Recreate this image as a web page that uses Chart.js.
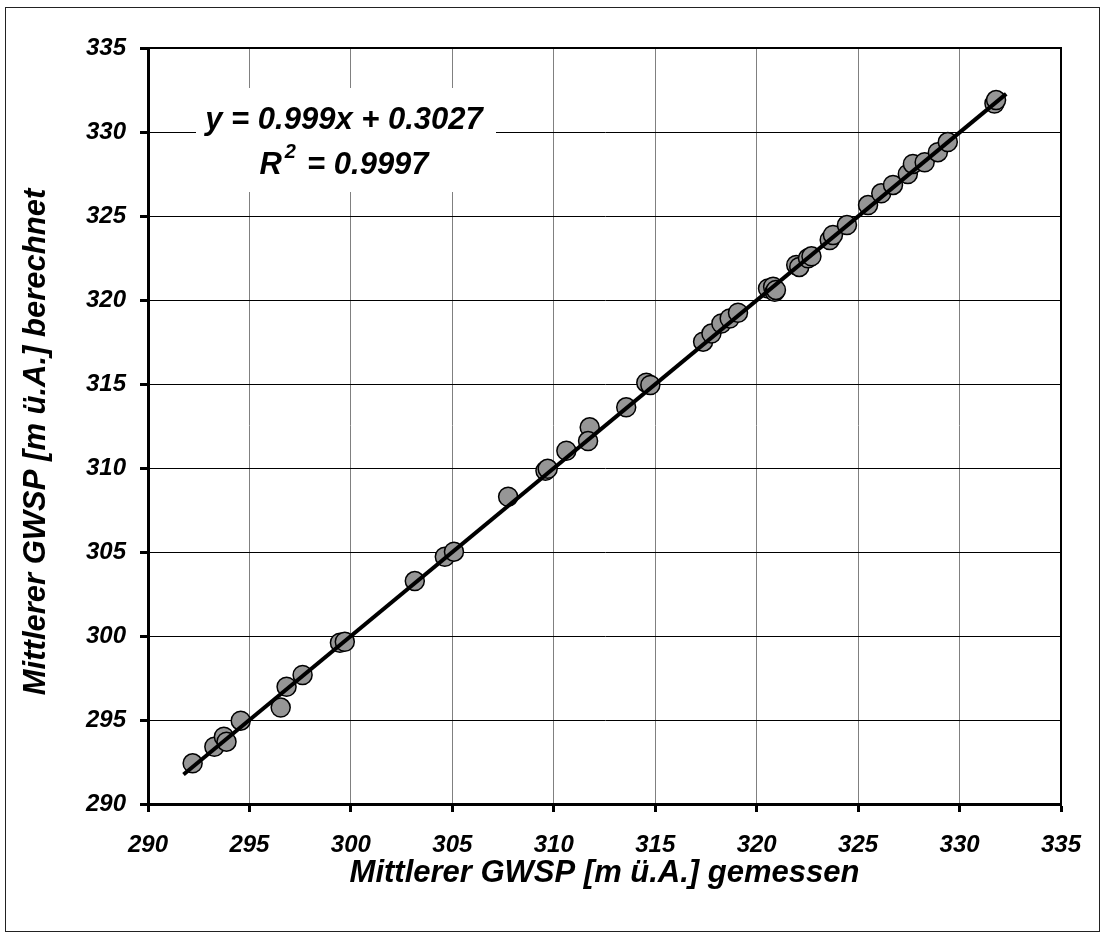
<!DOCTYPE html>
<html>
<head>
<meta charset="utf-8">
<script src="https://cdn.jsdelivr.net/npm/chart.js@4/dist/chart.umd.min.js"></script>
<style>
    html, body { margin: 0; padding: 0; background: #fff; }
    #wrap { width: 1104px; height: 936px; position: relative; }
</style>
</head>
<body>
<div id="wrap"><canvas id="chart"></canvas></div>
<script>
// measured vs. computed mean groundwater level (m ü.A.)
const measured = [292.2, 293.27, 293.74, 293.87, 294.57, 296.54, 296.83, 297.62, 299.46, 299.7,
    303.15, 304.63, 305.08, 307.75, 309.59, 309.7, 310.62, 311.77, 311.69, 313.57,
    314.56, 314.76, 317.36, 317.77, 318.26, 318.67, 319.08, 320.56, 320.81, 320.89,
    320.95, 321.95, 322.1, 322.53, 322.7, 323.6, 323.76, 324.45, 325.49, 326.14,
    326.72, 327.45, 327.7, 328.28, 328.93, 329.42, 331.72, 331.8];
const computed = [292.42, 293.41, 294.0, 293.71, 294.96, 295.74, 296.98, 297.68, 299.6, 299.66,
    303.27, 304.72, 305.02, 308.29, 309.83, 309.95, 311.03, 312.42, 311.6, 313.61,
    315.08, 314.94, 317.52, 318.0, 318.6, 318.9, 319.24, 320.69, 320.79, 320.49,
    320.6, 322.08, 321.97, 322.48, 322.6, 323.57, 323.87, 324.46, 325.65, 326.35,
    326.85, 327.5, 328.1, 328.2, 328.8, 329.4, 331.7, 331.9];

const trendX = [291.75, 332.3];
const trendY = [291.76, 332.27];

const axisMin = 290;
const axisMax = 335;
const axisStep = 5;

const equationText = 'y = 0.999x + 0.3027';
const r2Text = '= 0.9997';

const xTitle = 'Mittlerer GWSP [m ü.A.] gemessen';
const yTitle = 'Mittlerer GWSP [m ü.A.] berechnet';

const FONT = '"Liberation Sans", Arial, sans-serif';

const toPoints = (xs, ys) => xs.map((x, i) => ({ x: x, y: ys[i] }));

const frame = {
    id: 'frame',
    beforeDraw(chart) {
        const ctx = chart.ctx;
        ctx.save();
        ctx.fillStyle = '#fff';
        ctx.fillRect(0, 0, chart.width, chart.height);
        ctx.strokeStyle = '#222';
        ctx.lineWidth = 1;
        ctx.strokeRect(5.5, 7.5, 1094, 924);
        ctx.restore();
    },
    beforeDatasetsDraw(chart) {
        const ctx = chart.ctx;
        const a = chart.chartArea;
        ctx.save();
        // plot area top / right edges
        ctx.strokeStyle = '#000';
        ctx.lineWidth = 2;
        ctx.beginPath();
        ctx.moveTo(a.left, a.top);
        ctx.lineTo(a.right, a.top);
        ctx.lineTo(a.right, a.bottom);
        ctx.stroke();

        // equation box
        ctx.fillStyle = '#fff';
        ctx.fillRect(a.left + 48, a.top + 40, 300, 104);
        ctx.fillStyle = '#000';
        ctx.textBaseline = 'alphabetic';
        ctx.textAlign = 'center';
        ctx.font = 'italic bold 31px ' + FONT;
        const cx = a.left + 196;
        ctx.fillText(equationText, cx, a.top + 81);

        ctx.textAlign = 'left';
        const rW = ctx.measureText('R').width;
        ctx.font = 'italic bold 20px ' + FONT;
        const sW = ctx.measureText('2 ').width;
        ctx.font = 'italic bold 31px ' + FONT;
        const eW = ctx.measureText(' ' + r2Text).width;
        let x0 = cx - (rW + sW + eW) / 2;
        ctx.fillText('R', x0, a.top + 126);
        ctx.font = 'italic bold 20px ' + FONT;
        ctx.fillText('2', x0 + rW + 3, a.top + 110);
        ctx.font = 'italic bold 31px ' + FONT;
        ctx.fillText(' ' + r2Text, x0 + rW + sW, a.top + 126);
        ctx.restore();
    },
    afterDraw(chart) {
        // y axis title, placed a little below the plot centre as in the original
        const ctx = chart.ctx;
        const a = chart.chartArea;
        ctx.save();
        ctx.translate(36, (a.top + a.bottom) / 2 + 16);
        ctx.rotate(-Math.PI / 2);
        ctx.textAlign = 'center';
        ctx.textBaseline = 'middle';
        ctx.fillStyle = '#000';
        ctx.font = 'italic bold 31px ' + FONT;
        ctx.fillText(yTitle, 0, 0);
        ctx.restore();
    }
};

const ctx = document.getElementById('chart').getContext('2d');
new Chart(ctx, {
    type: 'scatter',
    data: {
        datasets: [{
            type: 'line',
            label: 'Trend',
            data: toPoints(trendX, trendY),
            borderColor: '#000',
            borderWidth: 4,
            pointRadius: 0,
            fill: false
        }, {
            label: 'GWSP',
            data: toPoints(measured, computed),
            backgroundColor: '#969696',
            borderColor: '#000',
            borderWidth: 1.5,
            pointRadius: 9.5
        }]
    },
    options: {
        responsive: true,
        maintainAspectRatio: false,
        animation: false,
        layout: { padding: { top: 48, right: 43, left: 0, bottom: 0 } },
        plugins: {
            legend: { display: false },
            tooltip: { enabled: false }
        },
        scales: {
            x: {
                type: 'linear',
                min: axisMin,
                max: axisMax,
                ticks: {
                    stepSize: axisStep,
                    color: '#000',
                    padding: 19,
                    font: { family: FONT, size: 24, weight: 'bold', style: 'italic' }
                },
                grid: { color: '#808080', lineWidth: 1, tickColor: '#000', tickWidth: 3, tickLength: 8 },
                border: { color: '#000', width: 3 },
                title: {
                    display: true,
                    text: xTitle,
                    color: '#000',
                    padding: { bottom: 44 },
                    font: { family: FONT, size: 31, weight: 'bold', style: 'italic' }
                },
                afterFit(scale) { scale.height = 132; }
            },
            y: {
                type: 'linear',
                min: axisMin,
                max: axisMax,
                ticks: {
                    stepSize: axisStep,
                    color: '#000',
                    padding: 14,
                    font: { family: FONT, size: 24, weight: 'bold', style: 'italic' }
                },
                grid: { color: '#000', lineWidth: 1, tickColor: '#000', tickWidth: 3, tickLength: 8 },
                border: { color: '#000', width: 3 },
                title: { display: false },
                afterFit(scale) { scale.width = 148; }
            }
        }
    },
    plugins: [frame]
});
</script>
</body>
</html>
